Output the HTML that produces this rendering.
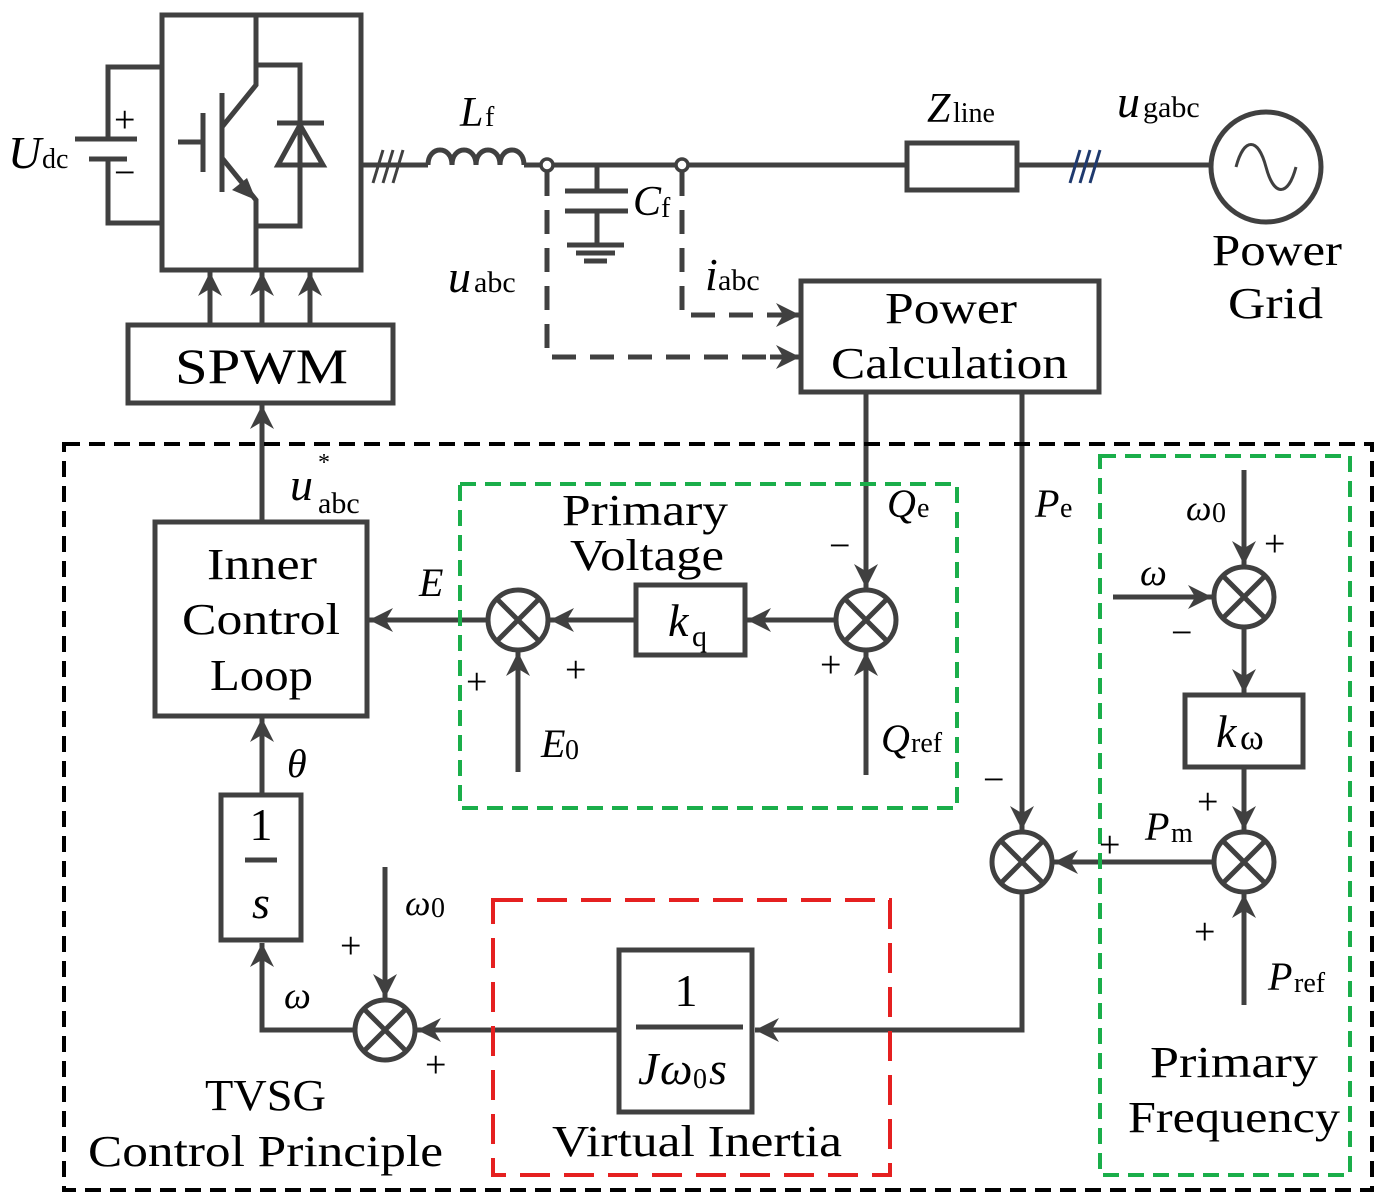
<!DOCTYPE html>
<html><head><meta charset="utf-8"><style>
html,body{margin:0;padding:0;background:#fff}
svg{display:block}
text{font-family:"Liberation Serif",serif;fill:#000}
.i{font-style:italic}
</style></head><body>
<svg width="1386" height="1204" viewBox="0 0 1386 1204" xmlns="http://www.w3.org/2000/svg">
<defs>
<marker id="a" markerWidth="26" markerHeight="24" refX="10" refY="5" orient="auto" markerUnits="userSpaceOnUse" viewBox="0 0 10 10"><path d="M0,0 L10,5 L0,10 L3,5 Z" fill="#404040"/></marker>
</defs>
<g stroke="#404040" stroke-width="5" fill="none">
<rect x="162" y="15" width="199" height="255"/>
<polyline points="256,15 256,85 222,127"/>
<line x1="222" y1="93" x2="222" y2="192"/>
<line x1="203" y1="113" x2="203" y2="172"/>
<line x1="178" y1="142" x2="203" y2="142"/>
<polyline points="222,158 256,200 256,270"/>
<path d="M256,200 L232,190 L247,178 Z" fill="#404040" stroke="none"/>
<polyline points="256,65 300,65 300,226 256,226"/>
<line x1="277" y1="123" x2="324" y2="123"/>
<polygon points="300,125 278,165 323,165"/>
<polyline points="161,67 108,67 108,139"/>
<polyline points="161,223 108,223 108,159"/>
<line x1="75" y1="139" x2="137" y2="139"/>
<line x1="89" y1="159" x2="127" y2="159"/>
<line x1="361" y1="165" x2="428" y2="165"/>
<path d="M428,165 c0,-20 24,-20 24,0 c0,-20 24,-20 24,0 c0,-20 24,-20 24,0 c0,-20 24,-20 24,0"/>
<line x1="524" y1="165" x2="541" y2="165"/>
<line x1="553" y1="165" x2="676" y2="165"/>
<line x1="688" y1="165" x2="907" y2="165"/>
<line x1="1017" y1="165" x2="1211" y2="165"/>
<circle cx="547" cy="165" r="6" stroke-width="3.5"/>
<circle cx="682" cy="165" r="6" stroke-width="3.5"/>
<rect x="907" y="143" width="110" height="47"/>
<circle cx="1266" cy="167" r="55"/>
<path d="M1236,167 c8,-30 22,-30 30,0 c8,30 22,30 30,0" stroke-width="3"/>
<g stroke-width="3"><line x1="373" y1="183" x2="383" y2="150"/><line x1="383" y1="183" x2="393" y2="150"/><line x1="393" y1="183" x2="403" y2="150"/></g>
<g stroke="#1f3a6e" stroke-width="3"><line x1="1070" y1="183" x2="1080" y2="150"/><line x1="1080" y1="183" x2="1090" y2="150"/><line x1="1090" y1="183" x2="1100" y2="150"/></g>
<line x1="597" y1="165" x2="597" y2="191"/>
<line x1="565" y1="191" x2="628" y2="191"/>
<line x1="565" y1="211" x2="628" y2="211"/>
<line x1="597" y1="211" x2="597" y2="245"/>
<line x1="567" y1="245" x2="624" y2="245"/>
<line x1="576" y1="253" x2="615" y2="253"/>
<line x1="584" y1="261" x2="607" y2="261"/>
<g stroke-dasharray="24,14"><polyline points="547,172 547,357 780,357"/><polyline points="682,172 682,315 780,315"/></g>
<line x1="770" y1="357" x2="800" y2="357" marker-end="url(#a)"/>
<line x1="770" y1="315" x2="800" y2="315" marker-end="url(#a)"/>
<rect x="801" y="281" width="298" height="111"/>
<rect x="128" y="325" width="265" height="78"/>
<line x1="210" y1="325" x2="210" y2="272" marker-end="url(#a)"/>
<line x1="262" y1="325" x2="262" y2="272" marker-end="url(#a)"/>
<line x1="310" y1="325" x2="310" y2="272" marker-end="url(#a)"/>
<line x1="262" y1="522" x2="262" y2="405" marker-end="url(#a)"/>
<rect x="155" y="522" width="212" height="194"/>
<line x1="488" y1="620" x2="369" y2="620" marker-end="url(#a)"/>
<line x1="636" y1="620" x2="550" y2="620" marker-end="url(#a)"/>
<line x1="836" y1="620" x2="747" y2="620" marker-end="url(#a)"/>
<rect x="636" y="585" width="109" height="70"/>
<line x1="866" y1="392" x2="866" y2="588" marker-end="url(#a)"/>
<line x1="866" y1="775" x2="866" y2="652" marker-end="url(#a)"/>
<line x1="518" y1="772" x2="518" y2="652" marker-end="url(#a)"/>
<line x1="1022" y1="392" x2="1022" y2="830" marker-end="url(#a)"/>
<polyline points="1022,892 1022,1030 755,1030" marker-end="url(#a)"/>
<rect x="619" y="950" width="133" height="162"/>
<line x1="619" y1="1030" x2="417" y2="1030" marker-end="url(#a)"/>
<polyline points="355,1030 262,1030 262,943" marker-end="url(#a)"/>
<rect x="221" y="795" width="80" height="145"/>
<line x1="262" y1="795" x2="262" y2="718" marker-end="url(#a)"/>
<line x1="385" y1="867" x2="385" y2="998" marker-end="url(#a)"/>
<line x1="1244" y1="470" x2="1244" y2="565" marker-end="url(#a)"/>
<line x1="1113" y1="597" x2="1212" y2="597" marker-end="url(#a)"/>
<line x1="1244" y1="627" x2="1244" y2="693" marker-end="url(#a)"/>
<rect x="1185" y="695" width="118" height="72"/>
<line x1="1244" y1="767" x2="1244" y2="830" marker-end="url(#a)"/>
<line x1="1244" y1="1005" x2="1244" y2="894" marker-end="url(#a)"/>
<line x1="1214" y1="862" x2="1054" y2="862" marker-end="url(#a)"/>
<circle cx="518" cy="620" r="30"/><path d="M497,599 L539,641 M539,599 L497,641"/>
<circle cx="866" cy="620" r="30"/><path d="M845,599 L887,641 M887,599 L845,641"/>
<circle cx="1022" cy="862" r="30"/><path d="M1001,841 L1043,883 M1043,841 L1001,883"/>
<circle cx="385" cy="1030" r="30"/><path d="M364,1009 L406,1051 M406,1009 L364,1051"/>
<circle cx="1244" cy="597" r="30"/><path d="M1223,576 L1265,618 M1265,576 L1223,618"/>
<circle cx="1244" cy="862" r="30"/><path d="M1223,841 L1265,883 M1265,841 L1223,883"/>
<line x1="245" y1="860" x2="277" y2="860"/>
<line x1="636" y1="1027" x2="743" y2="1027"/>
</g>
<rect x="64" y="444" width="1308" height="746" fill="none" stroke="#000" stroke-width="4" stroke-dasharray="16,9"/>
<rect x="460" y="484" width="497" height="324" fill="none" stroke="#1aae4a" stroke-width="4" stroke-dasharray="16,9"/>
<rect x="1100" y="456" width="250" height="719" fill="none" stroke="#1aae4a" stroke-width="4" stroke-dasharray="16,9"/>
<rect x="493" y="900" width="397" height="275" fill="none" stroke="#e52020" stroke-width="4" stroke-dasharray="30,14"/>
<g lengthAdjust="spacingAndGlyphs">
<text x="8" y="168" font-size="46" class="i">U</text><text x="42" y="168" font-size="28">dc</text>
<text x="114" y="132" font-size="38">+</text><text x="114" y="185" font-size="38">−</text>
<text x="460" y="126" font-size="42" class="i">L</text><text x="485" y="126" font-size="28">f</text>
<text x="633" y="215" font-size="42" class="i">C</text><text x="661" y="217" font-size="28">f</text>
<text x="448" y="292" font-size="46" class="i">u</text><text x="474" y="292" font-size="30">abc</text>
<text x="705" y="290" font-size="46" class="i">i</text><text x="718" y="290" font-size="30">abc</text>
<text x="927" y="122" font-size="42" class="i">Z</text><text x="953" y="122" font-size="28">line</text>
<text x="1117" y="117" font-size="46" class="i">u</text><text x="1143" y="117" font-size="30">gabc</text>
<text x="1212" y="265" font-size="44" textLength="130" lengthAdjust="spacingAndGlyphs">Power</text>
<text x="1228" y="318" font-size="44" textLength="95" lengthAdjust="spacingAndGlyphs">Grid</text>
<text x="885" y="323" font-size="44" textLength="132" lengthAdjust="spacingAndGlyphs">Power</text>
<text x="831" y="378" font-size="44" textLength="237" lengthAdjust="spacingAndGlyphs">Calculation</text>
<text x="175" y="383" font-size="50" textLength="173" lengthAdjust="spacingAndGlyphs">SPWM</text>
<text x="290" y="500" font-size="46" class="i">u</text><text x="318" y="470" font-size="24">*</text><text x="318" y="513" font-size="30">abc</text>
<text x="207" y="579" font-size="44" textLength="110" lengthAdjust="spacingAndGlyphs">Inner</text>
<text x="182" y="634" font-size="44" textLength="158" lengthAdjust="spacingAndGlyphs">Control</text>
<text x="210" y="690" font-size="44" textLength="103" lengthAdjust="spacingAndGlyphs">Loop</text>
<text x="419" y="596" font-size="40" class="i">E</text>
<text x="562" y="525" font-size="44" textLength="166" lengthAdjust="spacingAndGlyphs">Primary</text>
<text x="570" y="570" font-size="44" textLength="154" lengthAdjust="spacingAndGlyphs">Voltage</text>
<text x="668" y="636" font-size="46" class="i">k</text><text x="692" y="646" font-size="30">q</text>
<text x="887" y="517" font-size="40" class="i">Q</text><text x="917" y="517" font-size="28">e</text>
<text x="829" y="558" font-size="38">−</text>
<text x="820" y="677" font-size="38">+</text>
<text x="565" y="682" font-size="38">+</text>
<text x="466" y="694" font-size="38">+</text>
<text x="541" y="757" font-size="40" class="i">E</text><text x="565" y="759" font-size="28">0</text>
<text x="881" y="752" font-size="40" class="i">Q</text><text x="911" y="752" font-size="28">ref</text>
<text x="1035" y="517" font-size="40" class="i">P</text><text x="1060" y="517" font-size="28">e</text>
<text x="983" y="792" font-size="38">−</text>
<text x="1099" y="857" font-size="38">+</text>
<text x="1145" y="840" font-size="40" class="i">P</text><text x="1171" y="842" font-size="28">m</text>
<text x="1197" y="814" font-size="38">+</text>
<text x="1194" y="944" font-size="38">+</text>
<text x="1268" y="990" font-size="40" class="i">P</text><text x="1294" y="992" font-size="28">ref</text>
<text x="1186" y="520" font-size="36" class="i">ω</text><text x="1212" y="522" font-size="28">0</text>
<text x="1264" y="556" font-size="38">+</text>
<text x="1140" y="585" font-size="38" class="i">ω</text>
<text x="1171" y="645" font-size="38">−</text>
<text x="1216" y="747" font-size="46" class="i">k</text><text x="1240" y="749" font-size="36">ω</text>
<text x="1150" y="1077" font-size="44" textLength="168" lengthAdjust="spacingAndGlyphs">Primary</text>
<text x="1128" y="1132" font-size="44" textLength="212" lengthAdjust="spacingAndGlyphs">Frequency</text>
<text x="287" y="777" font-size="40" class="i">θ</text>
<text x="261" y="840" font-size="46" text-anchor="middle">1</text>
<text x="261" y="918" font-size="46" text-anchor="middle" class="i">s</text>
<text x="284" y="1008" font-size="38" class="i">ω</text>
<text x="405" y="915" font-size="36" class="i">ω</text><text x="431" y="917" font-size="28">0</text>
<text x="340" y="958" font-size="38">+</text>
<text x="425" y="1077" font-size="38">+</text>
<text x="686" y="1006" font-size="46" text-anchor="middle">1</text>
<text x="638" y="1084" font-size="46" class="i">J</text><text x="660" y="1084" font-size="46" class="i">ω</text><text x="693" y="1088" font-size="28">0</text><text x="709" y="1084" font-size="46" class="i">s</text>
<text x="552" y="1156" font-size="44" textLength="290" lengthAdjust="spacingAndGlyphs">Virtual Inertia</text>
<text x="205" y="1110" font-size="44" textLength="121" lengthAdjust="spacingAndGlyphs">TVSG</text>
<text x="88" y="1166" font-size="44" textLength="355" lengthAdjust="spacingAndGlyphs">Control Principle</text>
</g>
</svg>
</body></html>
